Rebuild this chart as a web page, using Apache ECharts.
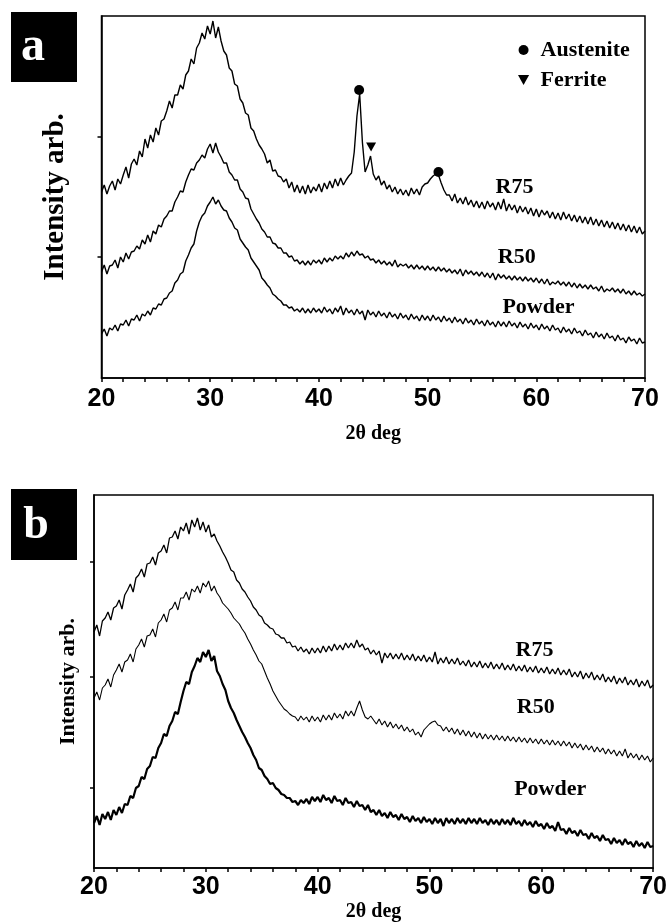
<!DOCTYPE html>
<html><head><meta charset="utf-8">
<script src="https://cdn.jsdelivr.net/npm/echarts@6/dist/echarts.min.js"></script>
<style>html,body{margin:0;padding:0;background:#fff}#c{width:670px;height:924px}</style>
</head><body><div id="c"></div><script>
// 2theta sampling grid: start 20 deg, step 0.25 deg
const thetaStart = 20, thetaStep = 0.25;
const xTickInterval = 10;

// Panel a (intensity arb., offset stacked)
const aR75 = [
186,193,184,192, 197,188,199,194, 203,211,200,214, 219,213,227,221, 239,230,243,236,
250,243,257,259, 267,277,270,283, 283,293,289,303, 307,319,314,330, 335,345,339,352,
344,357,340,351, 337,327,323,310, 307,294,292,279, 275,265,263,250, 247,239,233,229,
224,215,218,207, 208,202,201,196, 199,190,196,186, 193,185,192,184, 193,185,191,187,
194,186,195,189, 197,190,199,192, 200,193,198,202, 205,226,262,284, 236,206,213,222,
204,198,202,193, 197,189,193,186, 191,184,189,183, 188,182,190,184, 189,183,191,194,
195,199,202,204, 203,195,188,183, 183,177,184,175, 180,174,181,173, 178,171,177,170,
176,169,177,171, 175,168,176,169, 179,167,174,168, 173,165,172,166, 171,164,170,162,
169,161,168,163, 167,160,166,159, 165,158,166,159, 164,157,163,156, 162,155,161,154,
161,153,159,152, 158,151,157,150, 156,149,155,148, 154,147,153,146, 152,145,151,144,
147];
const aR50 = [
106,113,104,112, 113,118,110,121, 116,125,119,126, 127,132,129,138, 134,143,136,147,
144,153,151,159, 162,167,167,176, 181,187,186,196, 203,209,208,215, 218,223,220,229,
234,225,235,226, 221,215,215,206, 203,198,198,189, 186,180,179,169, 164,159,155,149,
146,141,141,135, 134,130,130,125, 125,121,122,117, 118,114,117,113, 117,113,118,115,
118,114,120,116, 120,117,122,119, 122,119,125,121, 126,122,127,123, 124,120,122,118,
119,115,118,114, 117,113,116,112, 118,111,114,112, 114,110,113,109, 113,109,112,108,
112,108,111,107, 111,107,110,106, 109,105,108,104, 109,102,108,104, 107,103,106,102,
106,101,105,100, 105,98,104,100, 103,99,102,98, 102,98,101,97, 101,97,100,96,
100,95,99,94, 99,93,96,94, 97,93,96,92, 96,91,95,90, 94,90,93,89,
93,89,91,87, 92,86,89,87, 90,86,89,85, 89,84,87,83, 87,83,85,82,
84];
const aPowder = [
44,49,42,50, 48,53,47,54, 53,58,52,59, 58,63,57,64, 62,67,63,70,
69,74,73,79, 80,85,87,95, 98,104,106,117, 123,130,134,147, 156,162,165,172,
176,181,174,178, 172,168,167,160, 156,150,148,139, 135,131,128,120, 116,112,108,100,
97,93,90,84, 82,79,77,73, 73,70,71,67, 69,66,70,65, 69,65,70,66,
69,65,71,66, 69,64,70,66, 72,63,70,65, 68,63,69,64, 67,58,68,63,
66,61,67,62, 65,60,66,61, 64,59,65,60, 63,58,64,59, 62,57,63,58,
62,57,63,58, 61,56,62,57, 60,55,61,56, 59,54,60,55, 58,53,59,54,
57,52,58,53, 56,51,57,52, 56,51,57,52, 55,50,56,51, 54,49,55,50,
53,48,54,49, 52,47,53,48, 50,45,51,46, 49,44,50,45, 47,42,48,43,
45,40,46,41, 44,39,45,40, 42,37,43,38, 40,35,41,37, 39,34,40,35,
36];

// Panel b
const bR75 = [
236,243,232,247, 250,256,248,260, 262,268,259,273, 278,284,276,290, 293,299,291,304,
305,311,303,315, 317,323,315,330, 331,337,329,341, 337,345,334,348, 341,350,338,346,
336,343,331,334, 327,322,316,311, 305,298,296,288, 285,279,276,271, 267,261,258,253,
251,245,243,240, 239,234,233,230, 230,225,226,221, 222,217,221,216, 219,214,220,215,
220,215,222,216, 222,217,224,218, 223,218,225,220, 225,220,228,221, 224,218,220,214,
218,213,217,205, 215,210,215,209, 214,209,215,208, 213,208,214,207, 212,207,213,206,
211,206,216,204, 210,205,211,204, 209,204,210,203, 207,202,208,201, 206,201,207,200,
205,200,206,199, 204,199,205,198, 203,198,204,197, 202,197,203,196, 201,196,202,195,
200,195,201,194, 199,194,200,193, 198,193,199,191, 196,191,197,189, 195,190,196,188,
193,188,194,186, 191,186,192,184, 190,185,191,183, 188,183,189,181, 187,182,188,180,
183];
const bR50 = [
170,176,168,180, 183,189,181,193, 198,204,196,206, 208,214,206,219, 223,229,221,232,
233,239,231,245, 248,254,246,258, 260,266,258,270, 270,276,268,279, 276,282,275,285,
281,287,277,282, 275,271,265,262, 259,255,250,247, 244,239,235,229, 224,218,213,207,
204,197,190,184, 177,172,167,163, 159,157,154,152, 151,147,152,148, 151,146,152,147,
151,146,153,148, 153,148,155,150, 154,149,157,152, 157,152,160,167, 158,151,149,152,
148,144,149,143, 147,141,146,140, 144,139,143,137, 141,136,139,133, 136,131,138,141,
144,146,147,143, 142,137,141,136, 140,134,139,133, 138,132,137,131, 136,130,135,129,
134,129,133,128, 133,128,132,127, 132,127,131,126, 131,126,130,125, 130,125,129,124,
129,124,128,123, 128,123,127,122, 127,122,126,120, 125,120,124,118, 123,118,122,116,
121,116,120,114, 119,114,118,112, 117,112,119,110, 115,110,114,108, 113,108,112,106,
110];
const bPowder = [
45,52,43,54, 49,56,48,58, 53,61,55,64, 63,72,70,80, 82,91,89,99,
102,111,110,120, 125,134,132,142, 147,156,154,166, 177,186,184,196, 202,210,206,216,
211,218,207,212, 197,192,184,178, 167,160,155,148, 142,136,131,125, 120,113,108,100,
98,92,89,84, 85,80,78,74, 73,70,70,66, 67,63,68,65, 69,64,71,67,
71,66,73,68, 70,65,72,67, 68,63,70,65, 66,61,67,62, 63,58,63,56,
58,53,58,52, 55,50,56,51, 53,48,54,49, 51,46,52,47, 50,45,51,46,
49,44,50,45, 49,42,50,45, 49,44,50,45, 49,44,50,45, 49,44,50,45,
48,43,49,44, 48,43,49,44, 48,43,50,44, 47,42,48,43, 46,41,47,42,
44,39,45,40, 42,37,46,38, 39,34,40,35, 37,32,38,33, 34,29,35,30,
32,27,33,28, 29,24,30,25, 28,23,29,24, 26,21,27,22, 25,20,26,21,
22];

// Peak markers (panel a)
const austenitePeaks = [[43.7, 288], [51.0, 206]];
const ferritePeaks = [[44.8, 231]];

// Curve labels [text, 2theta, intensity]
const aCurveLabels = [['R75', 58.0, 191], ['R50', 58.2, 121], ['Powder', 60.2, 71]];
const bCurveLabels = [['R75', 59.4, 218], ['R50', 59.5, 161], ['Powder', 60.8, 79]];

// y axis tick positions (unlabelled)
const aYTicks = [121, 241];
const bYTicks = [80, 191, 306];

const toPairs = arr => arr.map((v, i) => [thetaStart + i * thetaStep, v]);

const serif = 'Liberation Serif';
const sans = 'Liberation Sans';

function xAxisFor(gridIndex, margin, nameGap) {
  return {
    type: 'value', gridIndex, min: 20, max: 70, interval: xTickInterval,
    name: '2θ deg', nameLocation: 'middle', nameGap,
    nameTextStyle: { fontFamily: serif, fontWeight: 'bold', fontSize: 20, color: '#000' },
    axisLine: { lineStyle: { color: '#000', width: 1.5 } },
    axisTick: { length: 4, lineStyle: { color: '#000', width: 1.5 } },
    minorTick: { show: true, splitNumber: 5, length: 4, lineStyle: { color: '#000', width: 1.5 } },
    splitLine: { show: false },
    axisLabel: { margin, fontFamily: sans, fontWeight: 'bold', fontSize: 25, color: '#000' }
  };
}
function yAxisFor(gridIndex, max, ticks, fontSize, nameGap) {
  return {
    type: 'value', gridIndex, min: 0, max,
    name: 'Intensity arb.', nameLocation: 'middle', nameGap, nameRotate: 90,
    nameTextStyle: { fontFamily: serif, fontWeight: 'bold', fontSize, color: '#000' },
    axisLine: { show: true, lineStyle: { color: '#000', width: 1.5 } },
    axisTick: { show: true, length: 4, customValues: ticks, lineStyle: { color: '#000', width: 1.5 } },
    axisLabel: { show: false },
    splitLine: { show: false }
  };
}
function curve(data, gi, width) {
  return {
    type: 'line', xAxisIndex: gi, yAxisIndex: gi, data: toPairs(data),
    showSymbol: false, symbol: 'none', silent: true,
    lineStyle: { color: '#000', width }, z: 3
  };
}
function labelSeries(list, gi) {
  return {
    type: 'scatter', xAxisIndex: gi, yAxisIndex: gi, symbolSize: 0, silent: true,
    itemStyle: { opacity: 1 },
    data: list.map(d => ({ value: [d[1], d[2]], name: d[0] })),
    label: { show: true, position: 'inside', formatter: p => p.name,
      fontFamily: serif, fontWeight: 'bold', fontSize: 22, color: '#000' }
  };
}

const triPath = 'path://M0,0L10,0L5,9Z';

const chart = echarts.init(document.getElementById('c'), null, { renderer: 'canvas' });
chart.setOption({
  animation: false,
  backgroundColor: '#fff',
  grid: [
    { left: 101.5, right: 25, top: 16, bottom: 546, show: true, borderColor: '#000', borderWidth: 1.5 },
    { left: 94, right: 16, top: 495, bottom: 56, show: true, borderColor: '#000', borderWidth: 1.5 }
  ],
  xAxis: [xAxisFor(0, 9, 46), xAxisFor(1, 7, 34)],
  yAxis: [yAxisFor(0, 362, aYTicks, 29, 31), yAxisFor(1, 373, bYTicks, 22, 15)],
  legend: {
    orient: 'vertical', left: 513, top: 34, itemWidth: 24, itemHeight: 10, itemGap: 8,
    selectedMode: false,
    itemStyle: { opacity: 1 },
    textStyle: { fontFamily: serif, fontWeight: 'bold', fontSize: 22, lineHeight: 22, color: '#000' },
    data: [{ name: 'Austenite', icon: 'circle' }, { name: 'Ferrite', icon: triPath }]
  },
  graphic: [
    { type: 'rect', left: 11, top: 12, shape: { width: 66, height: 70 }, style: { fill: '#000' } },
    { type: 'text', x: 33, y: 48, style: { text: 'a', fill: '#fff', font: 'bold 48px "Liberation Serif"', align: 'center', verticalAlign: 'middle' } },
    { type: 'rect', left: 11, top: 489, shape: { width: 66, height: 71 }, style: { fill: '#000' } },
    { type: 'text', x: 36, y: 526, style: { text: 'b', fill: '#fff', font: 'bold 46px "Liberation Serif"', align: 'center', verticalAlign: 'middle' } }
  ],
  series: [
    curve(aR75, 0, 1.4), curve(aR50, 0, 1.4), curve(aPowder, 0, 1.4),
    curve(bR75, 1, 1.3), curve(bR50, 1, 1.1), curve(bPowder, 1, 2.2),
    { name: 'Austenite', type: 'scatter', xAxisIndex: 0, yAxisIndex: 0, symbol: 'circle', symbolSize: 10,
      itemStyle: { color: '#000', opacity: 1 }, data: austenitePeaks, z: 5 },
    { name: 'Ferrite', type: 'scatter', xAxisIndex: 0, yAxisIndex: 0, symbol: triPath, symbolSize: [10, 9],
      itemStyle: { color: '#000', opacity: 1 }, data: ferritePeaks, z: 5 },
    labelSeries(aCurveLabels, 0), labelSeries(bCurveLabels, 1)
  ]
});
</script></body></html>
